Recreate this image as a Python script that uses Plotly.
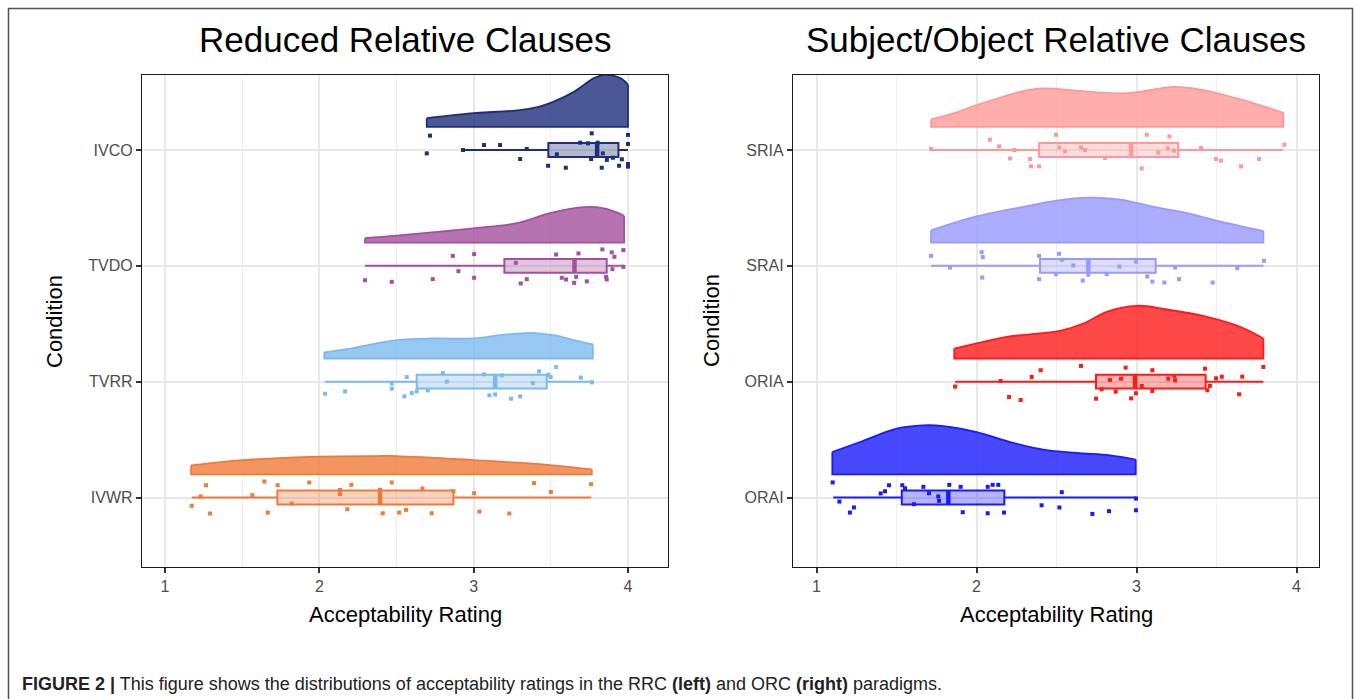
import plotly.graph_objects as go

W, H = 1357, 699

# ---------------- data ----------------
left_conditions = ["IVWR", "TVRR", "TVDO", "IVCO"]
right_conditions = ["ORAI", "ORIA", "SRAI", "SRIA"]
x_ticks = [1, 2, 3, 4]

colors = {
    "IVCO": (31, 46, 122), "TVDO": (163, 80, 158), "TVRR": (125, 185, 240), "IVWR": (240, 122, 58),
    "SRIA": (255, 153, 153), "SRAI": (153, 153, 255), "ORIA": (255, 26, 26), "ORAI": (26, 26, 255),
}

# density outline (x, height in category units)
dens_x = {
    "IVCO": [2.696, 3.0, 3.15, 3.30, 3.42, 3.515, 3.65, 3.78, 3.85, 3.95, 4.0],
    "TVDO": [2.296, 2.50, 3.0, 3.28, 3.495, 3.711, 3.798, 3.927, 3.975],
    "TVRR": [2.032, 2.199, 2.502, 2.739, 2.998, 3.171, 3.365, 3.517, 3.668, 3.772],
    "IVWR": [1.169, 1.508, 2.005, 2.372, 2.502, 2.998, 3.495, 3.765],
    "SRIA": [1.716, 1.855, 2.001, 2.272, 2.418, 2.584, 2.897, 3.022, 3.23, 3.418, 3.626, 3.834, 3.918],
    "SRAI": [1.716, 2.001, 2.3, 2.5, 2.7, 2.9, 3.1, 3.29, 3.5, 3.793],
    "ORIA": [1.861, 2.001, 2.189, 2.397, 2.522, 2.668, 2.814, 3.001, 3.189, 3.439, 3.647, 3.793],
    "ORAI": [1.099, 1.272, 1.501, 1.668, 1.793, 2.001, 2.209, 2.418, 2.626, 2.834, 2.995],
}
dens_h = {
    "IVCO": [0.075, 0.118, 0.130, 0.144, 0.173, 0.216, 0.302, 0.42, 0.449, 0.42, 0.363],
    "TVDO": [0.038, 0.06, 0.124, 0.168, 0.254, 0.306, 0.306, 0.262, 0.231],
    "TVRR": [0.052, 0.086, 0.158, 0.173, 0.173, 0.201, 0.222, 0.201, 0.153, 0.121],
    "IVWR": [0.078, 0.123, 0.153, 0.158, 0.158, 0.123, 0.080, 0.043],
    "SRIA": [0.064, 0.116, 0.187, 0.302, 0.332, 0.317, 0.288, 0.302, 0.345, 0.317, 0.245, 0.159, 0.121],
    "SRAI": [0.106, 0.227, 0.311, 0.363, 0.389, 0.371, 0.311, 0.264, 0.19, 0.1],
    "ORIA": [0.086, 0.13, 0.187, 0.216, 0.239, 0.302, 0.403, 0.455, 0.423, 0.36, 0.274, 0.173],
    "ORAI": [0.193, 0.279, 0.395, 0.423, 0.417, 0.365, 0.279, 0.213, 0.184, 0.164, 0.127],
}

# box statistics: lower whisker, q1, median, q3, upper whisker
box_lo = {"IVCO": 2.93, "TVDO": 2.296, "TVRR": 2.037, "IVWR": 1.173,
          "SRIA": 1.716, "SRAI": 1.716, "ORIA": 1.866, "ORAI": 1.105}
box_q1 = {"IVCO": 3.484, "TVDO": 3.199, "TVRR": 2.631, "IVWR": 1.728,
          "SRIA": 2.391, "SRAI": 2.397, "ORIA": 2.747, "ORAI": 1.533}
box_med = {"IVCO": 3.80, "TVDO": 3.653, "TVRR": 3.139, "IVWR": 2.393,
           "SRIA": 2.966, "SRAI": 2.699, "ORIA": 2.991, "ORAI": 1.824}
box_q3 = {"IVCO": 3.938, "TVDO": 3.862, "TVRR": 3.474, "IVWR": 2.869,
          "SRIA": 3.261, "SRAI": 3.12, "ORIA": 3.432, "ORAI": 2.174}
box_hi = {"IVCO": 4.0, "TVDO": 3.975, "TVRR": 3.772, "IVWR": 3.761,
          "SRIA": 3.918, "SRAI": 3.793, "ORIA": 3.793, "ORAI": 3.0}

# individual ratings and their vertical jitter (category units)
pts_x = {
    "IVCO": [2.717, 2.696, 2.931, 3.067, 3.171, 3.344, 3.301, 3.482, 3.539, 3.597, 3.765, 3.690, 3.741,
             3.761, 3.804, 3.837, 3.830, 3.863, 3.902, 3.942, 3.960, 4.0, 4.0, 4.0, 4.0],
    "TVDO": [2.296, 2.469, 2.735, 2.865, 2.901, 3.003, 3.003, 3.273, 3.305, 3.344, 3.534, 3.571, 3.599,
             3.651, 3.664, 3.679, 3.733, 3.834, 3.858, 3.862, 3.895, 3.912, 3.899, 3.970, 3.970],
    "TVRR": [2.037, 2.167, 2.469, 2.469, 2.551, 2.566, 2.599, 2.631, 2.703, 2.800, 2.826, 3.067, 3.102,
             3.139, 3.182, 3.242, 3.301, 3.383, 3.424, 3.484, 3.499, 3.534, 3.694, 3.767],
    "IVWR": [1.173, 1.231, 1.266, 1.292, 1.566, 1.644, 1.666, 1.730, 1.821, 1.935, 2.134, 2.134, 2.181,
             2.207, 2.393, 2.411, 2.469, 2.517, 2.562, 2.668, 2.728, 2.869, 3.003, 3.037, 3.231, 3.391,
             3.500, 3.761],
    "SRIA": [1.716, 2.084, 2.141, 2.209, 2.236, 2.334, 2.341, 2.391, 2.497, 2.518, 2.553, 2.653, 2.678,
             2.803, 3.032, 3.064, 3.136, 3.195, 3.205, 3.234, 3.403, 3.497, 3.528, 3.653, 3.766, 3.924],
    "SRAI": [1.716, 1.834, 2.032, 2.039, 2.036, 2.391, 2.391, 2.497, 2.516, 2.533, 2.605, 2.664, 2.699,
             2.814, 2.893, 2.997, 3.067, 3.099, 3.174, 3.241, 3.266, 3.476, 3.630, 3.797],
    "ORIA": [1.866, 2.151, 2.203, 2.276, 2.345, 2.401, 2.653, 2.747, 2.782, 2.834, 2.870, 2.903, 2.932,
             2.966, 2.997, 3.033, 3.099, 3.099, 3.199, 3.236, 3.241, 3.428, 3.443, 3.459, 3.497, 3.533,
             3.641, 3.661, 3.793],
    "ORAI": [1.101, 1.143, 1.209, 1.234, 1.401, 1.428, 1.453, 1.536, 1.553, 1.609, 1.668, 1.703, 1.761,
             1.766, 1.830, 1.901, 1.914, 2.070, 2.070, 2.101, 2.136, 2.172, 2.407, 2.518, 2.533, 2.724,
             2.828, 2.997, 2.997],
}
pts_dy = {
    "IVCO": [0.124, -0.029, 0.0, 0.043, 0.043, 0.009, -0.078, -0.136, -0.037, -0.153, 0.144, 0.063, 0.058,
             -0.078, 0.063, -0.029, -0.153, -0.086, -0.067, -0.136, -0.080, 0.13, 0.052, -0.121, -0.144],
    "TVDO": [-0.124, -0.138, -0.115, 0.086, -0.046, 0.101, -0.103, 0.026, -0.152, -0.115, 0.098, -0.103,
             -0.118, -0.147, -0.095, 0.107, -0.134, 0.142, -0.095, -0.118, 0.116, 0.078, -0.029, 0.136, -0.009],
    "TVRR": [-0.104, -0.084, -0.017, -0.061, -0.127, 0.040, -0.098, -0.084, -0.075, 0.074, 0.0, 0.063,
             -0.118, -0.110, 0.054, -0.147, -0.127, -0.012, 0.089, 0.060, 0.040, 0.126, 0.035, -0.006],
    "IVWR": [-0.072, 0.009, 0.106, -0.138, 0.020, 0.138, -0.130, 0.106, -0.052, 0.130, 0.066, 0.029, -0.101,
             0.109, 0.066, -0.136, 0.130, -0.130, -0.107, 0.078, -0.136, 0.054, 0.037, -0.121, -0.138, 0.124,
             0.048, 0.115],
    "SRIA": [0.009, 0.089, 0.031, -0.073, 0.0, -0.078, -0.141, -0.141, 0.132, 0.023, -0.012, 0.023, 0.0,
             -0.069, -0.159, 0.132, -0.021, 0.014, 0.118, -0.006, 0.017, -0.078, -0.092, -0.141, -0.078, 0.046],
    "SRAI": [0.086, -0.015, 0.118, 0.075, -0.101, 0.086, -0.115, -0.072, 0.104, 0.052, 0.003, -0.127, -0.078,
             -0.072, -0.006, 0.037, -0.092, -0.136, -0.144, -0.015, -0.115, -0.144, -0.020, 0.043],
    "ORIA": [-0.043, 0.006, -0.132, -0.158, 0.041, 0.099, 0.136, -0.147, -0.066, 0.015, -0.086, 0.026, 0.121,
             -0.144, -0.100, -0.037, 0.099, -0.080, 0.026, 0.049, 0.012, 0.112, -0.074, -0.037, 0.029, 0.043,
             -0.109, 0.043, 0.127],
    "ORAI": [0.130, -0.035, -0.130, -0.086, 0.035, 0.054, 0.106, 0.106, 0.080, -0.058, 0.092, 0.037, 0.009,
             -0.029, 0.109, 0.092, -0.127, 0.092, -0.136, 0.109, 0.109, -0.130, -0.067, -0.086, 0.046, -0.142,
             -0.118, -0.009, -0.110],
}

# ---------------- styling ----------------
DENS_OFFSET = 0.2
BOX_W = 0.12
FONT = "Liberation Sans, Arial, sans-serif"


def rgba(c, a):
    return f"rgba({c[0]},{c[1]},{c[2]},{a})"


fig = go.Figure()


def add_condition(name, cat, xa, ya):
    c = colors[name]
    line_c = rgba(c, 1)
    xs, hs = dens_x[name], dens_h[name]
    base = cat + DENS_OFFSET
    # base + edges of the flat violin
    fig.add_trace(go.Scatter(
        x=[xs[0], xs[0], xs[-1], xs[-1]], y=[base + hs[0], base, base, base + hs[-1]],
        mode="lines", line=dict(color=line_c, width=1.8), xaxis=xa, yaxis=ya, hoverinfo="skip"))
    fig.add_trace(go.Scatter(
        x=xs, y=[base + h for h in hs], mode="lines",
        line=dict(color=line_c, width=1.8, shape="spline", smoothing=1.0),
        fill="tonexty", fillcolor=rgba(c, 0.8), xaxis=xa, yaxis=ya, hoverinfo="skip"))
    # jittered points
    fig.add_trace(go.Scatter(
        x=pts_x[name], y=[cat + d for d in pts_dy[name]], mode="markers",
        marker=dict(symbol="square", size=4, color=line_c, line=dict(width=0)),
        xaxis=xa, yaxis=ya, hoverinfo="skip"))
    # box
    fig.add_trace(go.Box(
        y=[cat], q1=[box_q1[name]], median=[box_med[name]], q3=[box_q3[name]],
        lowerfence=[box_lo[name]], upperfence=[box_hi[name]], orientation="h",
        width=BOX_W, whiskerwidth=0, boxpoints=False,
        line=dict(color=line_c, width=2), fillcolor=rgba(c, 0.33),
        xaxis=xa, yaxis=ya, hoverinfo="skip"))
    # thick median
    fig.add_trace(go.Scatter(
        x=[box_med[name], box_med[name]], y=[cat - BOX_W / 2, cat + BOX_W / 2], mode="lines",
        line=dict(color=line_c, width=4.5), xaxis=xa, yaxis=ya, hoverinfo="skip"))


for i, n in enumerate(left_conditions):
    add_condition(n, i + 1, "x", "y")
for i, n in enumerate(right_conditions):
    add_condition(n, i + 1, "x2", "y2")

# ---------------- layout ----------------
pl_top, pl_bot = 75, 567
L1, R1 = 142, 668
L2, R2 = 793, 1319
cat_top_px, cat_bot_px = 150, 497.5
unit = (cat_bot_px - cat_top_px) / 3
y_range = [1 - (pl_bot - cat_bot_px) / unit, 4 + (cat_top_px - pl_top) / unit]
ydom = [(H - pl_bot) / H, (H - pl_top) / H]

def xaxis_cfg(l, r, px1, pxunit):
    return dict(
        domain=[l / W, r / W],
        range=[1 - (px1 - l) / pxunit, 1 + (r - px1) / pxunit],
        tickvals=x_ticks, ticks="outside", ticklen=5, tickwidth=1.5, tickcolor="#333333",
        tickfont=dict(family=FONT, size=16, color="#4D4D4D"),
        showline=True, mirror=True, linecolor="#1a1a1a", linewidth=1.3,
        showgrid=True, gridcolor="#E8E8E8", gridwidth=1.6,
        minor=dict(dtick=0.5, tick0=0.5, showgrid=True, gridcolor="#EFEFEF", gridwidth=1),
        zeroline=False, fixedrange=True,
    )

def yaxis_cfg(labels, anchor):
    return dict(
        domain=ydom, range=y_range, anchor=anchor,
        tickvals=[1, 2, 3, 4], ticktext=labels, ticks="outside", ticklen=5, tickwidth=1.5,
        tickcolor="#333333", tickfont=dict(family=FONT, size=16, color="#4D4D4D"),
        showline=True, mirror=True, linecolor="#1a1a1a", linewidth=1.3,
        showgrid=True, gridcolor="#E8E8E8", gridwidth=1.6, zeroline=False, fixedrange=True,
    )

fig.update_layout(
    width=W, height=H, margin=dict(l=0, r=0, t=0, b=0),
    paper_bgcolor="white", plot_bgcolor="white", showlegend=False,
    font=dict(family=FONT),
    xaxis=dict(anchor="y", **xaxis_cfg(L1, R1, 165, (628 - 165) / 3)),
    yaxis=yaxis_cfg(left_conditions, "x"),
    xaxis2=dict(anchor="y2", **xaxis_cfg(L2, R2, 816.5, 160)),
    yaxis2=yaxis_cfg(right_conditions, "x2"),
)

def px_ann(text, x, y, size, color="black", angle=0, xanchor="center", family=FONT):
    fig.add_annotation(text=text, x=x / W, y=1 - y / H, xref="paper", yref="paper",
                       showarrow=False, xanchor=xanchor, yanchor="middle", textangle=angle,
                       font=dict(family=family, size=size, color=color))

px_ann("Reduced Relative Clauses", (L1 + R1) / 2, 39, 35)
px_ann("Subject/Object Relative Clauses", (L2 + R2) / 2, 39, 35)
px_ann("Acceptability Rating", (L1 + R1) / 2, 614, 22)
px_ann("Acceptability Rating", (L2 + R2) / 2, 614, 22)
px_ann("Condition", 55, (pl_top + pl_bot) / 2, 22, angle=-90)
px_ann("Condition", 712, (pl_top + pl_bot) / 2, 22, angle=-90)
px_ann("<b>FIGURE 2 |</b> This figure shows the distributions of acceptability ratings in the RRC "
       "<b>(left)</b> and ORC <b>(right)</b> paradigms.", 20, 684, 18, color="#222222",
       xanchor="left", family="Liberation Sans Narrow, Arial Narrow, Liberation Sans, Arial, sans-serif")

# outer frame
fig.add_shape(type="rect", xref="paper", yref="paper", x0=8.5 / W, x1=1352.5 / W,
              y0=-0.02, y1=1 - 8.5 / H, line=dict(color="#555555", width=1.5))

fig.write_html("out.html")
